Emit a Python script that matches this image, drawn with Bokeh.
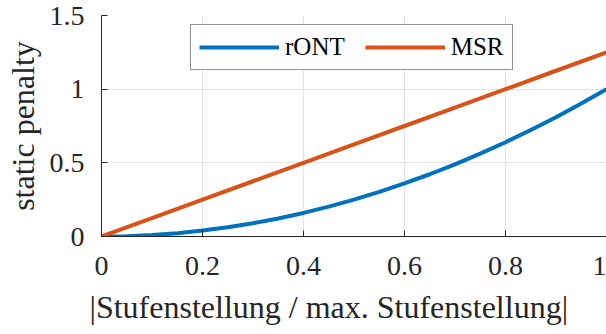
from bokeh.plotting import figure
from bokeh.models import FixedTicker, Legend, LegendItem, Range1d, Title
from bokeh.embed import file_html
from bokeh.resources import INLINE

# data
x_ront = [0.0, 0.05, 0.1, 0.15, 0.2, 0.25, 0.3, 0.35, 0.4, 0.45, 0.5,
          0.55, 0.6, 0.65, 0.7, 0.75, 0.8, 0.85, 0.9, 0.95, 1.0]
y_ront = [0.0, 0.0025, 0.01, 0.0225, 0.04, 0.0625, 0.09, 0.1225, 0.16, 0.2025, 0.25,
          0.3025, 0.36, 0.4225, 0.49, 0.5625, 0.64, 0.7225, 0.81, 0.9025, 1.0]
x_msr = [0.0, 0.1, 0.2, 0.3, 0.4, 0.5, 0.6, 0.7, 0.8, 0.9, 1.0]
y_msr = [0.0, 0.125, 0.25, 0.375, 0.5, 0.625, 0.75, 0.875, 1.0, 1.125, 1.25]
x_ticks = [0, 0.2, 0.4, 0.6, 0.8, 1.0]
x_tick_labels = ["0", "0.2", "0.4", "0.6", "0.8", "1"]
y_ticks = [0, 0.5, 1.0, 1.5]
y_tick_labels = ["0", "0.5", "1", "1.5"]
series_names = ["rONT", "MSR"]
x_label = "|Stufenstellung / max. Stufenstellung|"
y_label = "static penalty"

FONT = "Liberation Serif"
TXT = "#262626"

p = figure(width=606, height=334, output_backend="svg", toolbar_location=None,
           x_range=Range1d(0, 1), y_range=Range1d(0, 1.5),
           min_border_left=101, min_border_right=0, min_border_top=15, min_border_bottom=98)
p.outline_line_color = None
p.background_fill_color = "white"
p.border_fill_color = "white"

r1 = p.line(x_ront, y_ront, line_color="#0072BD", line_width=4)
r2 = p.line(x_msr, y_msr, line_color="#D95319", line_width=4)

for ax, ticks, labels in ((p.xaxis[0], x_ticks, x_tick_labels), (p.yaxis[0], y_ticks, y_tick_labels)):
    ax.ticker = FixedTicker(ticks=ticks)
    ax.major_label_overrides = {t: l for t, l in zip(ticks, labels)}
    ax.major_tick_in = 6
    ax.major_tick_out = 0
    ax.minor_tick_in = 0
    ax.minor_tick_out = 0
    ax.axis_line_color = TXT
    ax.major_tick_line_color = TXT
    ax.major_label_text_font = FONT
    ax.major_label_text_font_size = "28px"
    ax.major_label_text_color = TXT
    ax.axis_label_text_font = FONT
    ax.axis_label_text_font_size = "32px"
    ax.axis_label_text_font_style = "normal"
    ax.axis_label_text_color = TXT

p.yaxis.axis_label = y_label
p.xaxis.major_label_standoff = 20
p.yaxis.major_label_standoff = 17
p.yaxis.axis_label_standoff = 6

# x axis title, placed like the reference (slightly left of the frame centre)
xt = Title(text=x_label, align="left", offset=-12, standoff=18,
           text_font=FONT, text_font_size="32px", text_color=TXT,
           text_font_style="normal", text_line_height=0.7)
p.add_layout(xt, "below")

p.xgrid.ticker = FixedTicker(ticks=x_ticks)
p.ygrid.ticker = FixedTicker(ticks=y_ticks)
p.grid.grid_line_color = "#e3e3e3"
p.grid.grid_line_width = 1

legend = Legend(items=[LegendItem(label=series_names[0], renderers=[r1]),
                       LegendItem(label=series_names[1], renderers=[r2])],
                orientation="horizontal", location=(89, 166))
legend.label_text_font = FONT
legend.label_text_font_size = "25px"
legend.label_text_color = "black"
legend.glyph_width = 80
legend.glyph_height = 26
legend.label_standoff = 6
legend.spacing = 20
legend.padding = 8
legend.margin = 0
legend.border_line_color = "#262626"
legend.border_line_width = 1
legend.background_fill_alpha = 1
p.add_layout(legend, "center")

open("out.html", "w").write(file_html(p, INLINE))
